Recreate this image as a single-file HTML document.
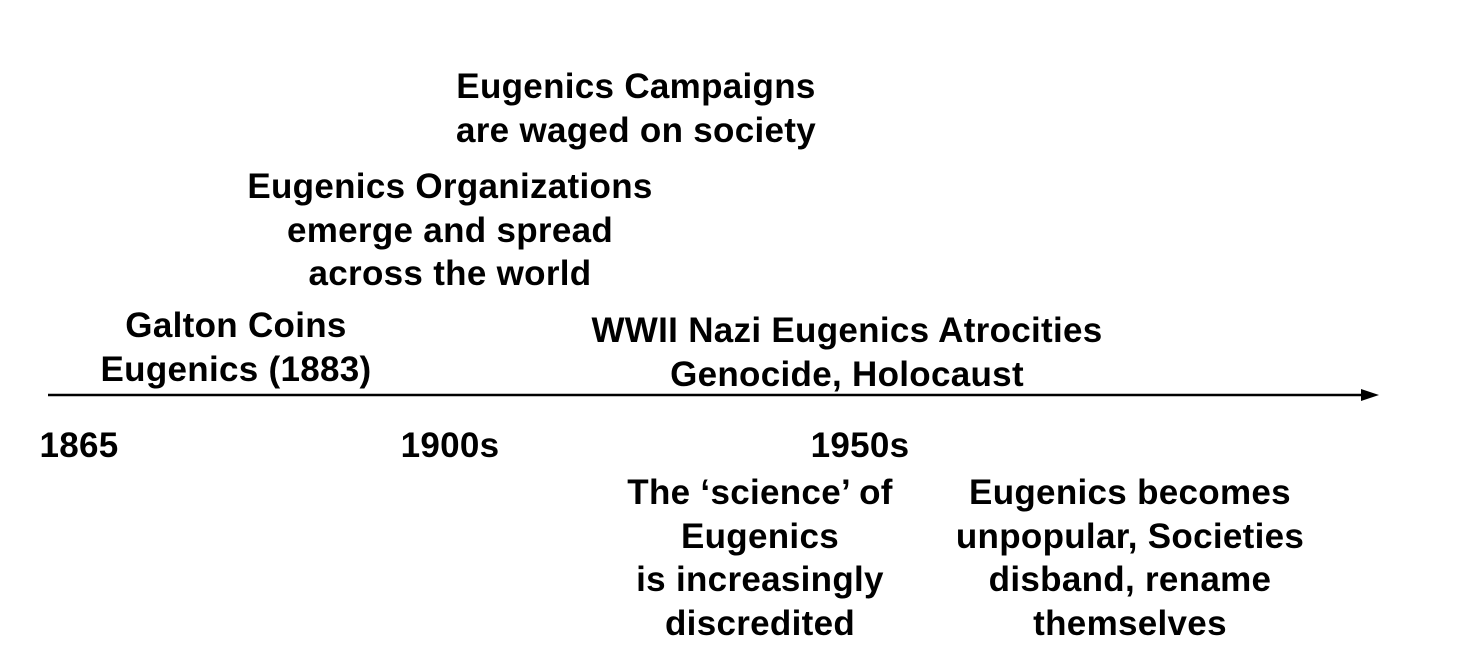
<!DOCTYPE html>
<html>
<head>
<meta charset="utf-8">
<style>
  html, body { margin: 0; padding: 0; background: #fff; }
  body { width: 1462px; height: 666px; position: relative; overflow: hidden;
         font-family: "Liberation Sans", "DejaVu Sans", sans-serif; font-weight: bold; color: #000; }
  .t { position: absolute; text-align: center; font-size: 35px; line-height: 43.5px; white-space: nowrap;
       transform: translateX(-50%); letter-spacing: 0.3px; }
</style>
</head>
<body>
<svg width="1462" height="666" style="position:absolute;left:0;top:0">
  <line x1="48" y1="395" x2="1366" y2="395" stroke="#000" stroke-width="2.5"/>
  <polygon points="1379,395 1361,389 1361,401" fill="#000"/>
</svg>

<div class="t" style="left:636px;top:65px">Eugenics Campaigns<br>are waged on society</div>
<div class="t" style="left:450px;top:165px">Eugenics Organizations<br>emerge and spread<br>across the world</div>
<div class="t" style="left:236px;top:304px">Galton Coins<br>Eugenics (1883)</div>
<div class="t" style="left:847px;top:309px">WWII Nazi Eugenics Atrocities<br>Genocide, Holocaust</div>

<div class="t" style="left:79px;top:424px">1865</div>
<div class="t" style="left:450px;top:424px">1900s</div>
<div class="t" style="left:860px;top:424px">1950s</div>

<div class="t" style="left:760px;top:471px">The ‘science’ of<br>Eugenics<br>is increasingly<br>discredited</div>
<div class="t" style="left:1130px;top:471px">Eugenics becomes<br>unpopular, Societies<br>disband, rename<br>themselves</div>
</body>
</html>
